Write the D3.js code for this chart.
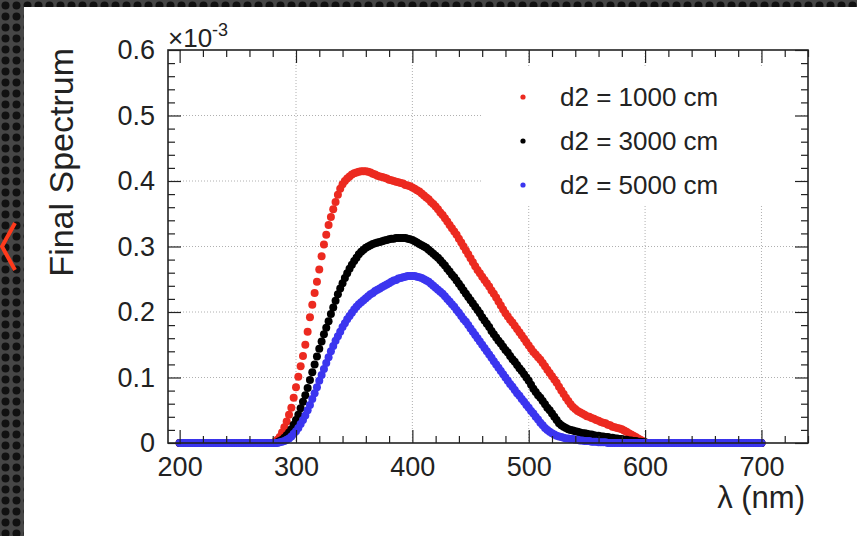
<!DOCTYPE html>
<html>
<head>
<meta charset="utf-8">
<script src="https://cdn.jsdelivr.net/npm/d3@7"></script>
<style>
  body { margin: 0; background: #333; }
  svg text { font-family: "Liberation Sans", Arial, Helvetica, sans-serif; fill: #222; }
</style>
</head>
<body>
<div id="chart"></div>
<script>
// wavelength grid (nm), 2 nm step from 200 to 700
var lambda = d3.range(200, 702, 2);

// Final spectrum values (x 10^-3), one row = 20 nm (10 points)
var d1000 = [
  0,0,0,0,0,0,0,0,0,0,                                                  // 200
  0,0,0,0,0,0,0,0,0,0,                                                  // 220
  0,0,0,0,0,0,0,0,0,0,                                                  // 240
  0,0,0,0,0,0,0,0,0,0,                                                  // 260
  0.000,0.002,0.005,0.009,0.016,0.024,0.033,0.043,0.054,0.069,          // 280
  0.085,0.101,0.117,0.133,0.150,0.170,0.192,0.211,0.229,0.246,          // 300
  0.265,0.285,0.303,0.318,0.333,0.345,0.357,0.368,0.379,0.388,          // 320
  0.395,0.400,0.404,0.407,0.410,0.412,0.413,0.414,0.415,0.415,          // 340
  0.415,0.414,0.413,0.411,0.410,0.408,0.407,0.406,0.405,0.404,          // 360
  0.402,0.401,0.400,0.399,0.398,0.397,0.396,0.394,0.393,0.392,          // 380
  0.390,0.388,0.386,0.384,0.381,0.378,0.375,0.372,0.368,0.365,          // 400
  0.361,0.357,0.352,0.348,0.343,0.338,0.333,0.328,0.323,0.318,          // 420
  0.312,0.306,0.300,0.294,0.288,0.282,0.276,0.270,0.264,0.259,          // 440
  0.254,0.249,0.244,0.239,0.233,0.228,0.222,0.216,0.210,0.204,          // 460
  0.198,0.193,0.188,0.184,0.179,0.174,0.169,0.164,0.159,0.154,          // 480
  0.149,0.144,0.139,0.135,0.131,0.127,0.122,0.117,0.112,0.107,          // 500
  0.102,0.097,0.092,0.086,0.080,0.075,0.069,0.064,0.059,0.055,          // 520
  0.052,0.049,0.047,0.045,0.043,0.041,0.040,0.038,0.037,0.035,          // 540
  0.034,0.032,0.031,0.030,0.028,0.027,0.025,0.024,0.023,0.022,          // 560
  0.021,0.019,0.017,0.015,0.013,0.011,0.009,0.007,0.005,0.003,          // 580
  0.001,0,0,0,0,0,0,0,0,0,                                              // 600
  0,0,0,0,0,0,0,0,0,0,                                                  // 620
  0,0,0,0,0,0,0,0,0,0,                                                  // 640
  0,0,0,0,0,0,0,0,0,0,                                                  // 660
  0,0,0,0,0,0,0,0,0,0,                                                  // 680
  0                                                                     // 700
];

var d3000 = [
  0,0,0,0,0,0,0,0,0,0,
  0,0,0,0,0,0,0,0,0,0,
  0,0,0,0,0,0,0,0,0,0,
  0,0,0,0,0,0,0,0,0,0,
  0.000,0.000,0.001,0.003,0.005,0.008,0.012,0.016,0.021,0.028,          // 280
  0.035,0.043,0.053,0.063,0.073,0.084,0.096,0.108,0.120,0.132,          // 300
  0.144,0.155,0.166,0.176,0.186,0.197,0.207,0.217,0.227,0.236,          // 320
  0.244,0.252,0.259,0.266,0.272,0.278,0.283,0.288,0.292,0.295,          // 340
  0.298,0.300,0.302,0.304,0.305,0.306,0.307,0.308,0.309,0.310,          // 360
  0.311,0.312,0.312,0.313,0.313,0.313,0.313,0.313,0.312,0.311,          // 380
  0.310,0.308,0.306,0.304,0.302,0.300,0.298,0.295,0.292,0.289,          // 400
  0.286,0.283,0.279,0.275,0.271,0.266,0.262,0.257,0.253,0.248,          // 420
  0.243,0.238,0.233,0.228,0.223,0.218,0.213,0.208,0.203,0.198,          // 440
  0.192,0.187,0.182,0.177,0.171,0.166,0.161,0.156,0.152,0.147,          // 460
  0.142,0.138,0.133,0.128,0.124,0.119,0.114,0.110,0.105,0.100,          // 480
  0.095,0.089,0.083,0.078,0.073,0.069,0.064,0.059,0.054,0.050,          // 500
  0.045,0.040,0.035,0.030,0.027,0.025,0.023,0.021,0.020,0.019,          // 520
  0.018,0.017,0.016,0.015,0.015,0.014,0.013,0.013,0.012,0.011,          // 540
  0.011,0.010,0.010,0.009,0.009,0.008,0.008,0.007,0.007,0.006,          // 560
  0.006,0.005,0.005,0.004,0.004,0.003,0.003,0.002,0.002,0.001,          // 580
  0.001,0,0,0,0,0,0,0,0,0,
  0,0,0,0,0,0,0,0,0,0,
  0,0,0,0,0,0,0,0,0,0,
  0,0,0,0,0,0,0,0,0,0,
  0,0,0,0,0,0,0,0,0,0,
  0
];

var d5000 = [
  0,0,0,0,0,0,0,0,0,0,
  0,0,0,0,0,0,0,0,0,0,
  0,0,0,0,0,0,0,0,0,0,
  0,0,0,0,0,0,0,0,0,0,
  0.000,0.000,0.000,0.001,0.002,0.003,0.005,0.007,0.010,0.014,          // 280
  0.018,0.023,0.029,0.035,0.042,0.050,0.058,0.067,0.076,0.085,          // 300
  0.095,0.104,0.113,0.122,0.131,0.140,0.148,0.156,0.163,0.170,          // 320
  0.177,0.183,0.189,0.194,0.199,0.204,0.208,0.212,0.215,0.218,          // 340
  0.221,0.224,0.227,0.229,0.232,0.234,0.236,0.238,0.240,0.242,          // 360
  0.244,0.246,0.248,0.249,0.251,0.252,0.253,0.254,0.255,0.255,          // 380
  0.255,0.255,0.254,0.253,0.252,0.250,0.248,0.246,0.243,0.240,          // 400
  0.237,0.234,0.231,0.228,0.224,0.220,0.216,0.212,0.208,0.203,          // 420
  0.199,0.194,0.189,0.185,0.180,0.175,0.170,0.165,0.160,0.155,          // 440
  0.150,0.145,0.140,0.135,0.130,0.125,0.120,0.115,0.110,0.105,          // 460
  0.100,0.095,0.090,0.086,0.081,0.076,0.072,0.067,0.063,0.058,          // 480
  0.054,0.049,0.045,0.040,0.036,0.031,0.027,0.023,0.020,0.017,          // 500
  0.015,0.013,0.011,0.010,0.009,0.008,0.007,0.007,0.006,0.006,          // 520
  0.005,0.005,0.004,0.004,0.003,0.003,0.003,0.002,0.002,0.002,          // 540
  0.001,0.001,0.001,0.001,0,0,0,0,0,0,                                  // 560
  0,0,0,0,0,0,0,0,0,0,
  0,0,0,0,0,0,0,0,0,0,
  0,0,0,0,0,0,0,0,0,0,
  0,0,0,0,0,0,0,0,0,0,
  0,0,0,0,0,0,0,0,0,0,
  0,0,0,0,0,0,0,0,0,0,
  0
];

var seriesNames = ["d2 = 1000 cm", "d2 = 3000 cm", "d2 = 5000 cm"];
var seriesValues = [d1000, d3000, d5000];
var seriesColors = ["#ec2a20", "#000000", "#3b35ef"];

var xMajor = [200, 300, 400, 500, 600, 700];
var yMajor = [0, 0.1, 0.2, 0.3, 0.4, 0.5, 0.6];

var W = 857, H = 536;
var svg = d3.select("#chart").append("svg")
    .attr("width", W)
    .attr("height", H);

// slide background with dots
var defs = svg.append("defs");
var pat = defs.append("pattern")
    .attr("id", "dots")
    .attr("width", 11).attr("height", 11)
    .attr("patternUnits", "userSpaceOnUse");
pat.append("rect").attr("width", 11).attr("height", 11).attr("fill", "#464646");
pat.append("circle").attr("cx", 5.5).attr("cy", 5.5).attr("r", 4).attr("fill", "#111");

svg.append("rect").attr("width", W).attr("height", H).attr("fill", "url(#dots)");
svg.append("rect")
    .attr("x", 24).attr("y", 7)
    .attr("width", W - 24).attr("height", H - 7)
    .attr("fill", "#fff");

// red "<" navigation mark
svg.append("polyline")
    .attr("points", "15,223 2,246.5 15,270")
    .attr("fill", "none")
    .attr("stroke", "#ff3a1c")
    .attr("stroke-width", 4);

var x = d3.scaleLinear().domain([190, 740]).range([168, 808]);
var y = d3.scaleLinear().domain([0, 0.6]).range([443, 50]);

var xMinor = d3.range(200, 741, 20).filter(d => d % 100 !== 0);
var yMinor = d3.range(0, 0.601, 0.02).filter(d => Math.abs(d * 10 - Math.round(d * 10)) > 1e-6);

// grid
var grid = svg.append("g").attr("class", "grid")
    .attr("stroke", "#b0b0b0")
    .attr("stroke-width", 1)
    .attr("stroke-dasharray", "1,2");
grid.selectAll(".gx")
    .data(xMajor.filter(d => d > 200))
    .enter().append("line")
    .attr("x1", d => x(d)).attr("x2", d => x(d))
    .attr("y1", y(0.6)).attr("y2", y(0));
grid.selectAll(".gy")
    .data(yMajor.filter(d => d > 0 && d < 0.6))
    .enter().append("line")
    .attr("x1", x(190)).attr("x2", x(740))
    .attr("y1", d => y(d)).attr("y2", d => y(d));

// legend box (covers the grid)
svg.append("rect")
    .attr("x", 483).attr("y", 66)
    .attr("width", 318).attr("height", 139)
    .attr("fill", "#fff");

// data points
var plot = svg.append("g").attr("class", "plot");
seriesValues.forEach(function(vals, i) {
    plot.append("g")
        .selectAll("circle")
        .data(vals)
        .enter().append("circle")
        .attr("cx", (d, j) => x(lambda[j]))
        .attr("cy", d => y(d))
        .attr("r", 4)
        .attr("fill", seriesColors[i]);
});

// axes (ticks inside, ROOT style)
function styleAxis(g) {
    g.select(".domain").remove();
    g.selectAll("line").attr("stroke", "#222").attr("stroke-width", 1.2);
}

svg.append("g")
    .attr("transform", "translate(0," + y(0) + ")")
    .call(d3.axisBottom(x).tickValues(xMinor).tickSize(-7).tickFormat(""))
    .call(styleAxis);
svg.append("g")
    .attr("transform", "translate(0," + y(0) + ")")
    .call(d3.axisBottom(x).tickValues(xMajor).tickSize(-13).tickPadding(14).tickFormat(d3.format("d")))
    .call(styleAxis)
    .call(g => g.selectAll("text").attr("font-size", 27).style("fill", "#222"));

svg.append("g")
    .attr("transform", "translate(0," + y(0.6) + ")")
    .call(d3.axisTop(x).tickValues(xMinor).tickSize(-7).tickFormat(""))
    .call(styleAxis);
svg.append("g")
    .attr("transform", "translate(0," + y(0.6) + ")")
    .call(d3.axisTop(x).tickValues(xMajor).tickSize(-13).tickFormat(""))
    .call(styleAxis);

svg.append("g")
    .attr("transform", "translate(" + x(190) + ",0)")
    .call(d3.axisLeft(y).tickValues(yMinor).tickSize(-7).tickFormat(""))
    .call(styleAxis);
svg.append("g")
    .attr("transform", "translate(" + x(190) + ",0)")
    .call(d3.axisLeft(y).tickValues(yMajor).tickSize(-13).tickPadding(13)
        .tickFormat(d => d === 0 ? "0" : d3.format(".1f")(d)))
    .call(styleAxis)
    .call(g => g.selectAll("text").attr("font-size", 27).style("fill", "#222"));

svg.append("g")
    .attr("transform", "translate(" + x(740) + ",0)")
    .call(d3.axisRight(y).tickValues(yMinor).tickSize(-7).tickFormat(""))
    .call(styleAxis);
svg.append("g")
    .attr("transform", "translate(" + x(740) + ",0)")
    .call(d3.axisRight(y).tickValues(yMajor).tickSize(-13).tickFormat(""))
    .call(styleAxis);

// frame
svg.append("rect")
    .attr("x", x(190)).attr("y", y(0.6))
    .attr("width", x(740) - x(190)).attr("height", y(0) - y(0.6))
    .attr("fill", "none")
    .attr("stroke", "#222")
    .attr("stroke-width", 1.6);

// exponent
var ex = svg.append("text")
    .attr("x", 168).attr("y", 47)
    .attr("font-size", 26);
ex.append("tspan").text("\u00d710");
ex.append("tspan").attr("dy", -11).attr("font-size", 18).text("-3");

// axis titles
svg.append("text")
    .attr("transform", "translate(73,48) rotate(-90)")
    .attr("text-anchor", "end")
    .attr("font-size", 34)
    .text("Final Spectrum");

svg.append("text")
    .attr("x", 805).attr("y", 508)
    .attr("text-anchor", "end")
    .attr("font-size", 31)
    .text("\u03bb (nm)");

// legend
var legend = svg.selectAll(".legend")
    .data(seriesNames)
    .enter().append("g")
    .attr("class", "legend")
    .attr("transform", (d, i) => "translate(0," + [97, 141, 185][i] + ")");
legend.append("circle")
    .attr("cx", 523).attr("cy", 0).attr("r", 2.6)
    .attr("fill", (d, i) => seriesColors[i]);
legend.append("text")
    .attr("x", 560).attr("y", 0)
    .attr("dy", "0.36em")
    .attr("font-size", 26)
    .text(d => d);
</script>
</body>
</html>
